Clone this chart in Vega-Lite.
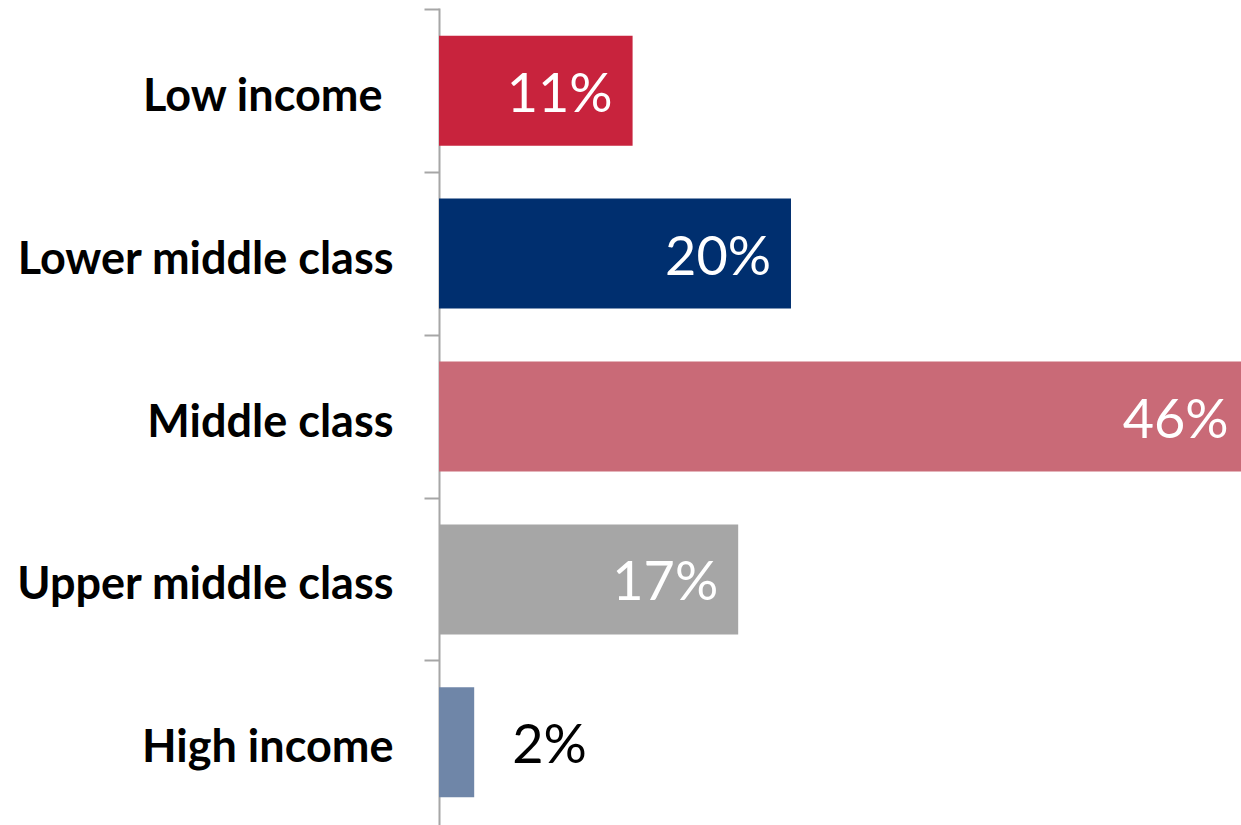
{
  "$schema": "https://vega.github.io/schema/vega-lite/v6.json",
  "width": 802,
  "height": 817,
  "autosize": {"type": "none"},
  "padding": {"left": 439, "top": 8, "right": 0, "bottom": 0},
  "background": "white",
  "config": {"view": {"stroke": null}},
  "data": {"values": [
    {"category": "Low income", "value": 0.11},
    {"category": "Lower middle class", "value": 0.20},
    {"category": "Middle class", "value": 0.46},
    {"category": "Upper middle class", "value": 0.17},
    {"category": "High income", "value": 0.02}
  ]},
  "encoding": {
    "y": {"field": "category", "type": "nominal", "sort": null,
      "scale": {"paddingInner": 0.325, "paddingOuter": 0.17},
      "axis": {"title": null, "bandPosition": -0.24, "domainColor": "#A6A6A6", "domainWidth": 2,
        "tickColor": "#A6A6A6", "tickWidth": 2, "tickSize": 15,
        "labelPadding": {"condition": {"test": "datum.value === 'Low income'", "value": 42}, "value": 31},
        "labelFont": "Lato", "labelFontWeight": "bold", "labelFontSize": 45, "labelColor": "#000000",
        "labelLimit": 500, "labelBaseline": "middle", "labelOffset": 6}},
    "x": {"field": "value", "type": "quantitative", "scale": {"domain": [0, 0.4557]}, "axis": null}
  },
  "layer": [
    {"mark": {"type": "bar", "clip": true},
     "encoding": {"color": {"field": "category", "type": "nominal", "legend": null,
       "scale": {"domain": ["Low income", "Lower middle class", "Middle class", "Upper middle class", "High income"],
                 "range": ["#C8233D", "#002F6F", "#C96A77", "#A6A6A6", "#6F86A8"]}}}},
    {"transform": [{"filter": "datum.value >= 0.05"}],
     "mark": {"type": "text", "align": "right", "baseline": "middle", "dx": -20, "dy": 5, "font": "Lato", "fontSize": 54, "color": "white"},
     "encoding": {"text": {"field": "value", "type": "quantitative", "format": ".0%"}}},
    {"transform": [{"filter": "datum.value < 0.05"}],
     "mark": {"type": "text", "align": "left", "baseline": "middle", "dx": 38, "dy": 5, "font": "Lato", "fontSize": 54, "color": "black"},
     "encoding": {"text": {"field": "value", "type": "quantitative", "format": ".0%"}}}
  ]
}
